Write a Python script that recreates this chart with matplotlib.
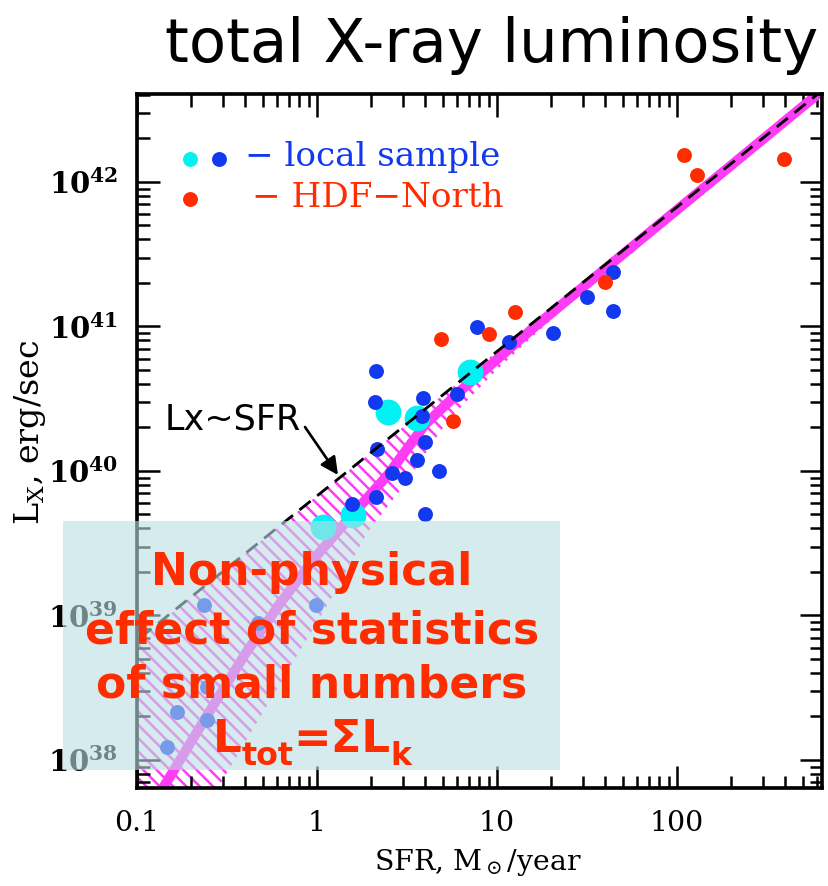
import matplotlib
matplotlib.use('Agg')
import matplotlib.pyplot as plt
from matplotlib.patches import Rectangle
from matplotlib.ticker import FixedLocator, LogLocator, NullFormatter

W, H, DPI = 828, 886, 120
plt.rcParams['mathtext.fontset'] = 'dejavuserif'
plt.rcParams['hatch.linewidth'] = 1.5

# ---------------- data ----------------
local_sfr = [2.13, 2.11, 2.16, 1.57, 2.13, 2.62, 3.10, 3.61, 4.0, 4.78,
             4.0, 3.89, 3.85, 6.0, 7.76, 11.7, 20.5, 31.8, 44.3, 44.3]
local_lx = [4.92e40, 3.0e40, 1.42e40, 5.9e39, 6.6e39, 9.7e39, 8.95e39, 1.19e40,
            1.59e40, 1.0e40, 5.0e39, 3.2e40, 2.4e40, 3.41e40, 9.9e40, 7.8e40,
            9.0e40, 1.6e41, 2.38e41, 1.28e41]
low_sfr = [0.237, 0.472, 0.99, 0.246, 0.168, 0.246, 0.147]
low_lx = [1.18e39, 8.87e38, 1.18e39, 3.2e38, 2.15e38, 1.89e38, 1.23e38]
cyan_sfr = [2.49, 3.61, 7.11, 1.59, 1.08]
cyan_lx = [2.56e40, 2.33e40, 4.84e40, 4.96e39, 4.09e39]
hdf_sfr = [4.91, 9.08, 12.6, 5.71, 40.0, 110, 130, 394]
hdf_lx = [8.2e40, 8.87e40, 1.26e41, 2.22e40, 2.03e41, 1.54e42, 1.12e42, 1.44e42]

# Lx ~ SFR relation (dashed)
line_sfr = [0.01, 650]
line_lx = [6.7e37, 4.35e42]
# non-linear total luminosity curve (magenta)
curve_sfr = [0.13, 0.25, 0.40, 0.63, 1.0, 1.58, 2.5, 4.0, 6.3, 10, 16, 650]
curve_lx = [5.5e37, 2.1e38, 5.4e38, 1.23e39, 2.6e39, 5.0e39, 9.5e39, 2.1e40,
            3.6e40, 5.9e40, 9.8e40, 4.35e42]
# hatched band
band_sfr = [0.09, 0.26, 1.19, 1.9, 3.0, 5.3, 10, 15.8, 35.5, 79, 645]
band_lo = [1.0e37, 5.4e37, 1.28e39, 3.72e39, 7.74e39, 2.2e40, 5.0e40, 8.5e40,
           2.1e41, 5.0e41, 4.3e42]
band_hi = [6.0e38, 1.74e39, 7.97e39, 1.27e40, 2.0e40, 3.55e40, 6.7e40, 1.06e41,
           2.38e41, 5.3e41, 4.32e42]

x_ticks = [0.1, 1, 10, 100]
x_tick_labels = ['0.1', '1', '10', '100']
y_ticks = [1e38, 1e39, 1e40, 1e41, 1e42]
y_tick_labels = [r'$\mathbf{10^{38}}$', r'$\mathbf{10^{39}}$', r'$\mathbf{10^{40}}$',
                 r'$\mathbf{10^{41}}$', r'$\mathbf{10^{42}}$']

BLUE = '#1238f0'
RED = '#ff2c00'
CYAN = '#00f2f2'
MAGENTA = '#ff3cf5'
S_DOT = 80
S_BIG = 240


def fx(px):
    return px / W


def fy(py):
    return 1 - py / H


fig = plt.figure(figsize=(W / DPI, H / DPI), dpi=DPI)
ax = fig.add_axes([fx(136.7), fy(788), (822 - 136.7) / W, (788 - 94) / H])
ax.set_xscale('log')
ax.set_yscale('log')
ax.set_xlim(0.1, 640)
ax.set_ylim(6.4e37, 4.06e42)

ax.fill_between(band_sfr, band_lo, band_hi, facecolor='none', edgecolor=MAGENTA,
                hatch='\\\\\\', linewidth=0, zorder=1)
ax.plot(curve_sfr, curve_lx, color=MAGENTA, lw=6, solid_capstyle='round', zorder=2)
ax.scatter(low_sfr, low_lx, s=S_DOT, color=BLUE, linewidths=0, zorder=3)
ax.scatter(cyan_sfr, cyan_lx, s=S_BIG, color=CYAN, linewidths=0, zorder=3)
ax.scatter(local_sfr, local_lx, s=S_DOT, color=BLUE, linewidths=0, zorder=3)
ax.scatter(hdf_sfr, hdf_lx, s=S_DOT, color=RED, linewidths=0, zorder=3)
ax.plot(line_sfr, line_lx, color='black', lw=1.7, dashes=(5, 3), zorder=5)

# ticks
ax.xaxis.set_major_locator(FixedLocator(x_ticks))
ax.xaxis.set_minor_locator(LogLocator(base=10, subs=list(range(2, 10))))
ax.xaxis.set_minor_formatter(NullFormatter())
ax.set_xticklabels(x_tick_labels, fontfamily='DejaVu Serif', fontsize=17)
ax.yaxis.set_major_locator(FixedLocator(y_ticks))
ax.yaxis.set_minor_locator(LogLocator(base=10, subs=list(range(2, 10))))
ax.yaxis.set_minor_formatter(NullFormatter())
ax.set_yticklabels(y_tick_labels, fontsize=17.5)
ax.tick_params(which='major', direction='in', length=13.5, width=1.5,
               top=True, right=True)
ax.tick_params(which='minor', direction='in', length=7.5, width=1.5,
               top=True, right=True)
ax.tick_params(axis='x', which='major', pad=13)
ax.tick_params(axis='y', which='major', pad=11)
for sp in ax.spines.values():
    sp.set_linewidth(2.2)

# axis labels
fig.text(fx(478), fy(862), r'SFR, M$_\odot$/year', ha='center', va='center',
         fontsize=17, family='DejaVu Serif')
fig.text(fx(30), fy(432), r'L$_{\rm X}$, erg/sec', ha='center', va='center',
         rotation=90, fontsize=20, family='DejaVu Serif')

# title
fig.text(fx(165), fy(62), 'total X-ray luminosity', ha='left', va='baseline',
         fontsize=36.5, family='DejaVu Sans')

# legend
ax.scatter([0.0778], [0.906], s=S_DOT, color=CYAN, linewidths=0,
           transform=ax.transAxes, clip_on=False, zorder=6)
ax.scatter([0.120], [0.906], s=S_DOT, color=BLUE, linewidths=0,
           transform=ax.transAxes, clip_on=False, zorder=6)
ax.scatter([0.0778], [0.849], s=S_DOT, color=RED, linewidths=0,
           transform=ax.transAxes, clip_on=False, zorder=6)
fig.text(fx(245), fy(166), '\u2212 local sample', ha='left', va='baseline',
         color=BLUE, fontsize=20.5, family='DejaVu Serif')
fig.text(fx(252), fy(207), '\u2212 HDF\u2212North', ha='left', va='baseline',
         color=RED, fontsize=20.5, family='DejaVu Serif')

# Lx~SFR annotation
fig.text(fx(165), fy(430), 'Lx~SFR', ha='left', va='baseline', fontsize=21,
         family='DejaVu Sans')
ax.annotate('', xy=(338, H - 475), xycoords='figure pixels',
            xytext=(305, H - 427), textcoords='figure pixels',
            arrowprops=dict(arrowstyle='-|>', color='black', lw=1.6,
                            mutation_scale=22, shrinkA=0, shrinkB=0))

# translucent box
fig.add_artist(Rectangle((fx(63), fy(770)), (560 - 63) / W, (770 - 521) / H,
                         transform=fig.transFigure,
                         facecolor=(187 / 255, 222 / 255, 227 / 255),
                         alpha=0.6, edgecolor='none', zorder=10))

box_kw = dict(ha='center', va='baseline', color=RED, fontsize=26.5,
              fontweight='bold', family='DejaVu Sans', zorder=11)
fig.text(fx(312), fy(585), 'Non-physical', **box_kw)
fig.text(fx(312), fy(643), 'effect of statistics', **box_kw)
fig.text(fx(312), fy(697), 'of small numbers', **box_kw)

# L_tot = Sigma L_k built from pieces
renderer = fig.canvas.get_renderer()
pieces = [('L', 27, 0), ('tot', 19, -13), ('=\u03a3L', 27, 0), ('k', 19, -13)]
objs = []
total = 0
for s, size, dy in pieces:
    t = fig.text(0, 0, s, ha='left', va='baseline', color=RED, fontsize=size,
                 fontweight='bold', family='DejaVu Sans', zorder=11)
    w = t.get_window_extent(renderer).width
    objs.append((t, w, dy))
    total += w
x0 = 312 - total / 2
for t, w, dy in objs:
    t.set_position((fx(x0), fy(752 - dy)))
    x0 += w

fig.savefig('out.png', dpi=DPI)
